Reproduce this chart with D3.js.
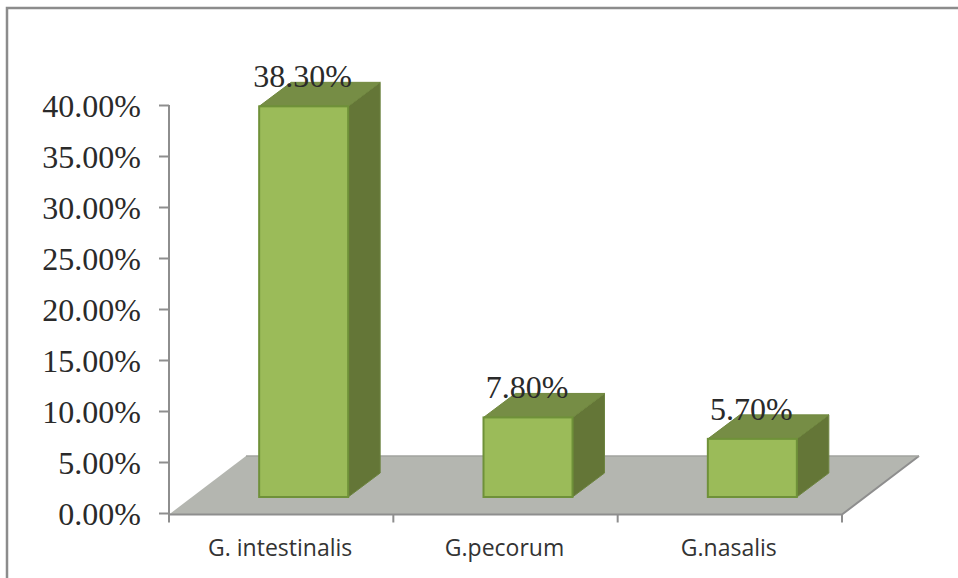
<!DOCTYPE html>
<html><head><meta charset="utf-8">
<script src="https://cdn.jsdelivr.net/npm/d3@7"></script>
<style>html,body{margin:0;background:#fff}svg{display:block}</style>
</head><body><svg id="c" width="958" height="578"></svg>
<script>
const categories = ["G. intestinalis", "G.pecorum", "G.nasalis"];
const values = [38.3, 7.8, 5.7];
const valueLabels = ["38.30%", "7.80%", "5.70%"];
const yTicks = [0, 5, 10, 15, 20, 25, 30, 35, 40];

const svg = d3.select("#c");
const axisColor = "#8e8e8e";
const textColor = "#2a2a2a";
const serif = "'Liberation Serif', serif";

const x = d3.scaleBand().domain(categories).range([169, 842]);
const y = d3.scaleLinear().domain([0, 40]).range([513, 105]);

// oblique projection of the 3-D chart box
const floorDepth = { dx: 77, dy: -57 };
const barInset = { dx: 23, dy: -16 };
const barDepth = { dx: 32, dy: -24 };
const barWidth = 89;

// outer frame
svg.append("path").attr("d", "M7,578V8H958")
  .attr("fill", "none").attr("stroke", "#8c8c8c").attr("stroke-width", 2.5);

// floor plane
const y0 = y(0);
const floorFront = y0 + 1.5;
const floorBack = y0 + floorDepth.dy;
svg.append("path")
  .attr("d", `M169,${floorFront}L${169 + floorDepth.dx},${floorBack}H${842 + floorDepth.dx}L842,${floorFront}Z`)
  .attr("fill", "#b4b6b0");
svg.append("path")
  .attr("d", `M169,${floorFront}H842L${842 + floorDepth.dx},${floorBack}`)
  .attr("fill", "none").attr("stroke", axisColor).attr("stroke-width", 2);
svg.append("path")
  .attr("d", `M${169 + floorDepth.dx},${floorBack}H${842 + floorDepth.dx}`)
  .attr("fill", "none").attr("stroke", "#a2a39f").attr("stroke-width", 1.5);

// value axis
const yAxis = svg.append("g").attr("transform", "translate(169,0)")
  .call(d3.axisLeft(y).tickValues(yTicks).tickSize(10).tickPadding(18).tickFormat(d => d.toFixed(2) + "%"));
yAxis.selectAll("path,line").attr("stroke", axisColor).attr("stroke-width", 2);
yAxis.select(".domain").attr("d", `M0,${y(40)}V${y0 + 9}`);
yAxis.selectAll("text").attr("font-family", serif).attr("font-size", 32).attr("fill", textColor).attr("dy", "0.35em");

// category axis
const xAxisG = svg.append("g").attr("transform", `translate(0,${floorFront})`);
const edges = d3.range(categories.length + 1).map(i => 169 + i * x.step());
xAxisG.selectAll("line").data(edges).join("line")
  .attr("x1", d => d).attr("x2", d => d).attr("y1", 0).attr("y2", 8)
  .attr("stroke", axisColor).attr("stroke-width", 2);
xAxisG.selectAll("text").data(categories).join("text")
  .attr("x", d => x(d) + x.bandwidth() / 2 - 1).attr("y", 41)
  .attr("text-anchor", "middle").attr("font-family", "'Open Sans', sans-serif")
  .attr("font-size", 23).attr("fill", "#333").text(d => d);

// bars
const bars = svg.append("g").selectAll("g").data(categories).join("g");
const left = d => x(d) + x.bandwidth() / 2 + barInset.dx - 45;
const base = y0 + barInset.dy;
const top_ = (d, i) => base - (y0 - y(values[i]));
bars.append("path")
  .attr("d", (d, i) => { const l = left(d) + barWidth, t = top_(d, i);
    return `M${l},${t}l${barDepth.dx},${barDepth.dy}V${base + barDepth.dy}L${l},${base}Z`; })
  .attr("fill", "#647637").attr("stroke", "#6d8440").attr("stroke-width", 1);
bars.append("path")
  .attr("d", (d, i) => { const l = left(d), t = top_(d, i);
    return `M${l},${t}l${barDepth.dx},${barDepth.dy}h${barWidth}l${-barDepth.dx},${-barDepth.dy}Z`; })
  .attr("fill", "#768d45").attr("stroke", "#71883f").attr("stroke-width", 1);
bars.append("rect")
  .attr("x", left).attr("y", top_).attr("width", barWidth)
  .attr("height", (d, i) => base - top_(d, i))
  .attr("fill", "#9bbb59").attr("stroke", "#6f9139").attr("stroke-width", 2);

// value labels
bars.append("text")
  .attr("x", d => left(d) + 43.5).attr("y", (d, i) => top_(d, i) - 19)
  .attr("text-anchor", "middle").attr("font-family", serif).attr("font-size", 32)
  .attr("fill", textColor).text((d, i) => valueLabels[i]);
</script></body></html>
